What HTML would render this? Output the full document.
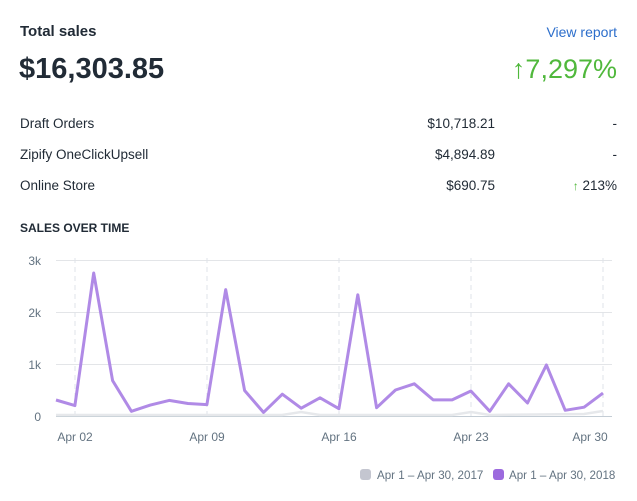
<!DOCTYPE html>
<html><head><meta charset="utf-8"><style>
body{margin:0;width:637px;height:501px;background:#fff;font-family:"Liberation Sans",sans-serif;color:#212b36;overflow:hidden;position:relative}
.a{position:absolute;white-space:nowrap}
</style></head><body>
<div class="a" style="left:20px;top:23px;font-size:15px;font-weight:bold;">Total sales</div>
<div class="a" style="right:20px;top:24px;font-size:14px;color:#2c6ecb;">View report</div>
<div class="a" style="left:19px;top:53px;font-size:29px;font-weight:bold;color:#212b36;">$16,303.85</div>
<div class="a" style="right:20px;top:54px;font-size:27px;color:#50b83c;">↑7,297%</div>
<div class="a" style="left:20px;top:116px;font-size:13.5px;">Draft Orders</div>
<div class="a" style="right:142px;top:116px;font-size:13.5px;">$10,718.21</div>
<div class="a" style="right:20px;top:116px;font-size:13.5px;">-</div>
<div class="a" style="left:20px;top:147px;font-size:13.5px;">Zipify OneClickUpsell</div>
<div class="a" style="right:142px;top:147px;font-size:13.5px;">$4,894.89</div>
<div class="a" style="right:20px;top:147px;font-size:13.5px;">-</div>
<div class="a" style="left:20px;top:178px;font-size:13.5px;">Online Store</div>
<div class="a" style="right:142px;top:178px;font-size:13.5px;">$690.75</div>
<div class="a" style="right:20px;top:178px;font-size:13.5px;"><span style="color:#50b83c;font-size:12px">↑</span> 213%</div>
<div class="a" style="left:20px;top:221px;font-size:12px;font-weight:bold;">SALES OVER TIME</div>
<svg class="a" style="left:0;top:0" width="637" height="501">
<g stroke="#e3e5e8" stroke-width="1">
<line x1="56" x2="612" y1="260.5" y2="260.5"/><line x1="56" x2="612" y1="312.5" y2="312.5"/><line x1="56" x2="612" y1="364.5" y2="364.5"/>
</g>
<g stroke="#dfe3e8" stroke-dasharray="5,4">
<line x1="75" x2="75" y1="258" y2="416"/><line x1="207" x2="207" y1="258" y2="416"/><line x1="339" x2="339" y1="258" y2="416"/><line x1="471" x2="471" y1="258" y2="416"/><line x1="603" x2="603" y1="258" y2="416"/>
</g>
<line x1="56" x2="612" y1="416.5" y2="416.5" stroke="#c4cdd5"/>
<g font-size="12" fill="#637381" text-anchor="end">
<text x="41" y="265">3k</text><text x="41" y="317">2k</text><text x="41" y="369">1k</text><text x="41" y="421">0</text>
</g>
<g font-size="12" fill="#637381" text-anchor="middle">
<text x="75" y="441">Apr 02</text><text x="207" y="441">Apr 09</text><text x="339" y="441">Apr 16</text><text x="471" y="441">Apr 23</text><text x="590" y="441">Apr 30</text>
</g>
<polyline fill="none" stroke="#e6e8eb" stroke-width="2.5" points="56,415 282,415 301,412 320,415 452,415 471,412 490,415 584,414 603,411"/>
<polyline fill="none" stroke="#b08ae6" stroke-width="3" stroke-linejoin="round" points="56,400 74.9,405.6 93.7,273 112.6,380.6 131.4,411.3 150.3,405.1 169.2,400.4 188,403.5 206.9,404.6 225.7,289.6 244.6,390.5 263.5,412.4 282.3,394.2 301.2,408.2 320,397.8 338.9,408.7 357.8,294.8 376.6,407.7 395.5,390 414.3,383.8 433.2,399.9 452.1,399.9 470.9,391 489.8,411.3 508.6,383.8 527.5,403 546.4,365 565.2,410.3 584.1,407.2 603,393.1"/>
<rect x="360" y="469" width="11" height="11" rx="3" fill="#c4c6d0"/>
<text x="377" y="479" font-size="11.6" fill="#637381">Apr 1 – Apr 30, 2017</text>
<rect x="493" y="469" width="11" height="11" rx="3" fill="#9c6ade"/>
<text x="509" y="479" font-size="11.6" fill="#637381">Apr 1 – Apr 30, 2018</text>
</svg>
</body></html>
